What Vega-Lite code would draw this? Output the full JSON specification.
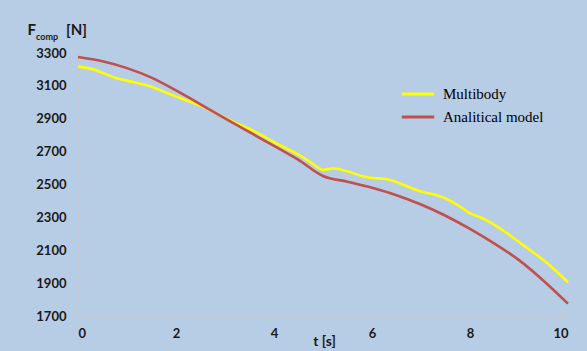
{
  "$schema": "https://vega.github.io/schema/vega-lite/v6.json",
  "width": 490,
  "height": 263,
  "autosize": {"type": "none"},
  "padding": {"left": 78, "top": 53, "right": 19, "bottom": 35},
  "background": "#b7cce5",
  "config": {
    "view": {"stroke": null},
    "font": "Lato"
  },
  "title": {
    "text": "comp", "anchor": "start", "frame": "group", "orient": "top",
    "font": "Lato", "fontWeight": "bold", "fontSize": 9, "color": "#1a1a1a",
    "baseline": "alphabetic", "align": "left", "dx": -42, "offset": 0, "dy": 27
  },
  "data": {
    "values": [
      {"t": 0, "F": 3217, "model": "Multibody"},
      {"t": 0.25, "F": 3205, "model": "Multibody"},
      {"t": 0.5, "F": 3180, "model": "Multibody"},
      {"t": 0.75, "F": 3150, "model": "Multibody"},
      {"t": 1, "F": 3132, "model": "Multibody"},
      {"t": 1.25, "F": 3115, "model": "Multibody"},
      {"t": 1.5, "F": 3095, "model": "Multibody"},
      {"t": 1.75, "F": 3065, "model": "Multibody"},
      {"t": 2, "F": 3035, "model": "Multibody"},
      {"t": 2.25, "F": 3008, "model": "Multibody"},
      {"t": 2.5, "F": 2980, "model": "Multibody"},
      {"t": 2.75, "F": 2945, "model": "Multibody"},
      {"t": 3, "F": 2905, "model": "Multibody"},
      {"t": 3.25, "F": 2870, "model": "Multibody"},
      {"t": 3.5, "F": 2838, "model": "Multibody"},
      {"t": 3.75, "F": 2800, "model": "Multibody"},
      {"t": 4, "F": 2758, "model": "Multibody"},
      {"t": 4.25, "F": 2720, "model": "Multibody"},
      {"t": 4.5, "F": 2682, "model": "Multibody"},
      {"t": 4.75, "F": 2635, "model": "Multibody"},
      {"t": 5, "F": 2590, "model": "Multibody"},
      {"t": 5.2, "F": 2597, "model": "Multibody"},
      {"t": 5.5, "F": 2580, "model": "Multibody"},
      {"t": 5.75, "F": 2555, "model": "Multibody"},
      {"t": 6, "F": 2540, "model": "Multibody"},
      {"t": 6.25, "F": 2535, "model": "Multibody"},
      {"t": 6.5, "F": 2515, "model": "Multibody"},
      {"t": 6.75, "F": 2485, "model": "Multibody"},
      {"t": 7, "F": 2457, "model": "Multibody"},
      {"t": 7.25, "F": 2440, "model": "Multibody"},
      {"t": 7.5, "F": 2415, "model": "Multibody"},
      {"t": 7.75, "F": 2375, "model": "Multibody"},
      {"t": 8, "F": 2325, "model": "Multibody"},
      {"t": 8.25, "F": 2295, "model": "Multibody"},
      {"t": 8.5, "F": 2255, "model": "Multibody"},
      {"t": 8.75, "F": 2205, "model": "Multibody"},
      {"t": 9, "F": 2150, "model": "Multibody"},
      {"t": 9.25, "F": 2095, "model": "Multibody"},
      {"t": 9.5, "F": 2040, "model": "Multibody"},
      {"t": 9.75, "F": 1975, "model": "Multibody"},
      {"t": 10, "F": 1905, "model": "Multibody"},
      {"t": 0, "F": 3276, "model": "Analitical model"},
      {"t": 0.5, "F": 3250, "model": "Analitical model"},
      {"t": 1, "F": 3208, "model": "Analitical model"},
      {"t": 1.5, "F": 3150, "model": "Analitical model"},
      {"t": 2, "F": 3072, "model": "Analitical model"},
      {"t": 2.5, "F": 2988, "model": "Analitical model"},
      {"t": 3, "F": 2902, "model": "Analitical model"},
      {"t": 3.5, "F": 2818, "model": "Analitical model"},
      {"t": 4, "F": 2735, "model": "Analitical model"},
      {"t": 4.5, "F": 2650, "model": "Analitical model"},
      {"t": 5, "F": 2552, "model": "Analitical model"},
      {"t": 5.5, "F": 2517, "model": "Analitical model"},
      {"t": 6, "F": 2480, "model": "Analitical model"},
      {"t": 6.5, "F": 2435, "model": "Analitical model"},
      {"t": 7, "F": 2378, "model": "Analitical model"},
      {"t": 7.5, "F": 2310, "model": "Analitical model"},
      {"t": 8, "F": 2230, "model": "Analitical model"},
      {"t": 8.5, "F": 2140, "model": "Analitical model"},
      {"t": 9, "F": 2040, "model": "Analitical model"},
      {"t": 9.5, "F": 1915, "model": "Analitical model"},
      {"t": 10, "F": 1775, "model": "Analitical model"}
    ]
  },
  "mark": {"type": "line", "strokeWidth": 2.6, "interpolate": "monotone"},
  "encoding": {
    "x": {
      "field": "t", "type": "quantitative",
      "scale": {"domain": [0, 10], "nice": false},
      "axis": {
        "values": [0, 2, 4, 6, 8, 10],
        "grid": false, "ticks": false, "labelOverlap": false,
        "domainColor": "#c3c9d0", "domainWidth": 1,
        "labelFont": "Lato", "labelFontWeight": "bold", "labelFontSize": 13,
        "labelColor": "#1a1a1a", "labelPadding": 11,
        "title": "t [s]", "titleFont": "Lato", "titleFontWeight": "bold",
        "titleFontSize": 14, "titleColor": "#1a1a1a",
        "titleX": 246, "titleY": 29, "titleBaseline": "alphabetic", "titleAlign": "center"
      }
    },
    "y": {
      "field": "F", "type": "quantitative",
      "scale": {"domain": [1700, 3300], "nice": false, "zero": false},
      "axis": {
        "values": [1700, 1900, 2100, 2300, 2500, 2700, 2900, 3100, 3300],
        "format": "d",
        "grid": false, "ticks": false, "labelOverlap": false,
        "domainColor": "#c3c9d0", "domainWidth": 1,
        "labelFont": "Lato", "labelFontWeight": "bold", "labelFontSize": 13,
        "labelColor": "#1a1a1a", "labelPadding": 12,
        "title": "F\u2003\u2003\u2002[N]", "titleFont": "Lato", "titleFontWeight": "bold",
        "titleFontSize": 15, "titleColor": "#1a1a1a", "titleAngle": 0,
        "titleX": -51, "titleY": -19, "titleAlign": "left", "titleBaseline": "alphabetic"
      }
    },
    "color": {
      "field": "model", "type": "nominal",
      "scale": {"domain": ["Multibody", "Analitical model"], "range": ["#ffff00", "#c0504d"]},
      "legend": {
        "title": null, "orient": "none", "legendX": 325, "legendY": 26,
        "symbolType": "M-1.2,0L1.2,0", "symbolSize": 729, "symbolStrokeWidth": 3,
        "labelFont": "Liberation Serif", "labelFontSize": 15, "labelColor": "#000000",
        "labelOffset": 10, "rowPadding": 0
      }
    }
  }
}
